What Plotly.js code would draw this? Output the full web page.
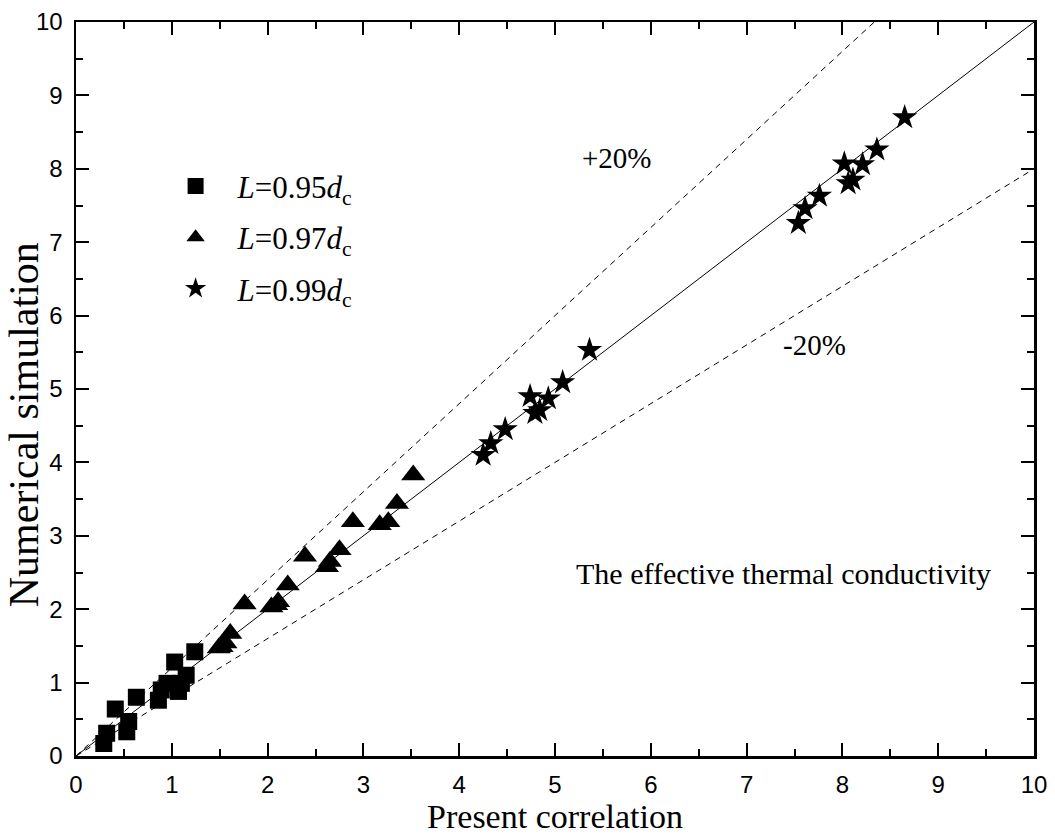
<!DOCTYPE html>
<html>
<head>
<meta charset="utf-8">
<script src="https://cdn.plot.ly/plotly-3.0.1.min.js"></script>
<style>html,body{margin:0;padding:0;background:#fff;}#chart{width:1055px;height:836px;}</style>
</head>
<body>
<div id="chart"></div>
<script>
// L = 0.95 dc (squares)
const sqX = [0.29, 0.32, 0.41, 0.53, 0.55, 0.63, 0.86, 0.89, 0.95, 1.03, 1.07, 1.10, 1.15, 1.24];
const sqY = [0.17, 0.31, 0.64, 0.33, 0.47, 0.80, 0.76, 0.90, 0.99, 1.28, 0.88, 0.99, 1.10, 1.42];
// L = 0.97 dc (triangles)
const triX = [1.49, 1.52, 1.56, 1.61, 1.76, 2.04, 2.09, 2.11, 2.21, 2.39, 2.62, 2.65, 2.75, 2.89, 3.17, 3.26, 3.35, 3.52];
const triY = [1.47, 1.49, 1.54, 1.67, 2.07, 2.03, 2.06, 2.10, 2.33, 2.72, 2.58, 2.65, 2.81, 3.19, 3.15, 3.19, 3.44, 3.83];
// L = 0.99 dc (stars)
const starX = [4.25, 4.33, 4.48, 4.74, 4.79, 4.84, 4.93, 5.08, 5.36, 7.54, 7.61, 7.76, 8.02, 8.06, 8.11, 8.21, 8.36, 8.65];
const starY = [4.10, 4.26, 4.45, 4.90, 4.67, 4.71, 4.87, 5.09, 5.53, 7.26, 7.46, 7.63, 8.07, 7.80, 7.85, 8.06, 8.26, 8.70];
// reference lines
const refX = [0, 10];
const refY = [0, 10];
const plusX = [0, 10 / 1.2];
const plusY = [0, 10];
const minusX = [0, 10];
const minusY = [0, 8];
const legendNames = ['<i>L</i>=0.95<i>d</i><sub>c</sub>', '<i>L</i>=0.97<i>d</i><sub>c</sub>', '<i>L</i>=0.99<i>d</i><sub>c</sub>'];
const xTicks = [0,1,2,3,4,5,6,7,8,9,10];

const serif = 'Liberation Serif, Times New Roman, serif';
const sans = 'Liberation Sans Narrow, Arial Narrow, Liberation Sans, Arial, sans-serif';

const traces = [
  {x: refX, y: refY, mode: 'lines', line: {color: '#000', width: 1}, showlegend: false, hoverinfo: 'skip'},
  {x: plusX, y: plusY, mode: 'lines', line: {color: '#000', width: 1, dash: '6px,5px'}, showlegend: false, hoverinfo: 'skip'},
  {x: minusX, y: minusY, mode: 'lines', line: {color: '#000', width: 1, dash: '6px,5px'}, showlegend: false, hoverinfo: 'skip'},
  {x: sqX, y: sqY, mode: 'markers', name: legendNames[0], legendgroup: 'a',
   marker: {symbol: 'square', size: 17, color: '#000'}},
  {x: triX, y: triY, mode: 'markers', name: legendNames[1], legendgroup: 'b',
   marker: {symbol: 'triangle-up', size: 21, color: '#000'}},
  {x: starX, y: starY, mode: 'markers', name: legendNames[2], legendgroup: 'c',
   marker: {symbol: 'star', size: 19, color: '#000'}}
];

const axisCommon = {
  range: [0, 10], dtick: 1, tick0: 0, showgrid: false, zeroline: false,
  showline: true, linecolor: '#000', linewidth: 2.5, mirror: 'ticks',
  ticks: 'inside', ticklen: 13, tickwidth: 2, tickcolor: '#000',
  minor: {dtick: 0.5, ticks: 'inside', ticklen: 7, tickwidth: 2, tickcolor: '#000'},
  tickfont: {family: sans, size: 24, color: '#000'}
};

const layout = {
  width: 1055, height: 836,
  margin: {l: 76, r: 21, t: 22, b: 80},
  paper_bgcolor: '#fff', plot_bgcolor: '#fff',
  xaxis: Object.assign({}, axisCommon, {
    tickvals: xTicks, ticklabelstandoff: 6,
    title: {text: 'Present correlation', font: {family: serif, size: 34, color: '#000'}, standoff: 0}
  }),
  yaxis: Object.assign({}, axisCommon, {
    tickvals: xTicks, ticklabelstandoff: 6
  }),
  showlegend: true,
  legend: {
    x: 0.081, y: 0.813, xanchor: 'left', yanchor: 'top',
    bgcolor: 'rgba(0,0,0,0)', borderwidth: 0,
    font: {family: serif, size: 31, color: '#000'},
    tracegroupgap: 8, traceorder: 'grouped', itemsizing: 'trace', itemwidth: 74
  },
  annotations: [
    {x: -0.054, y: 0.451, xref: 'paper', yref: 'paper', text: 'Numerical simulation', textangle: -90,
     showarrow: false, xanchor: 'center', yanchor: 'middle',
     font: {family: serif, size: 42, color: '#000'}},
    {x: 5.65, y: 8.15, xref: 'x', yref: 'y', text: '+20%', showarrow: false,
     font: {family: serif, size: 29, color: '#000'}},
    {x: 7.71, y: 5.6, xref: 'x', yref: 'y', text: '-20%', showarrow: false,
     font: {family: serif, size: 29, color: '#000'}},
    {x: 7.39, y: 2.49, xref: 'x', yref: 'y', text: 'The effective thermal conductivity', showarrow: false,
     font: {family: serif, size: 30, color: '#000'}}
  ]
};

Plotly.newPlot('chart', traces, layout, {staticPlot: true, displayModeBar: false});
</script>
</body>
</html>
